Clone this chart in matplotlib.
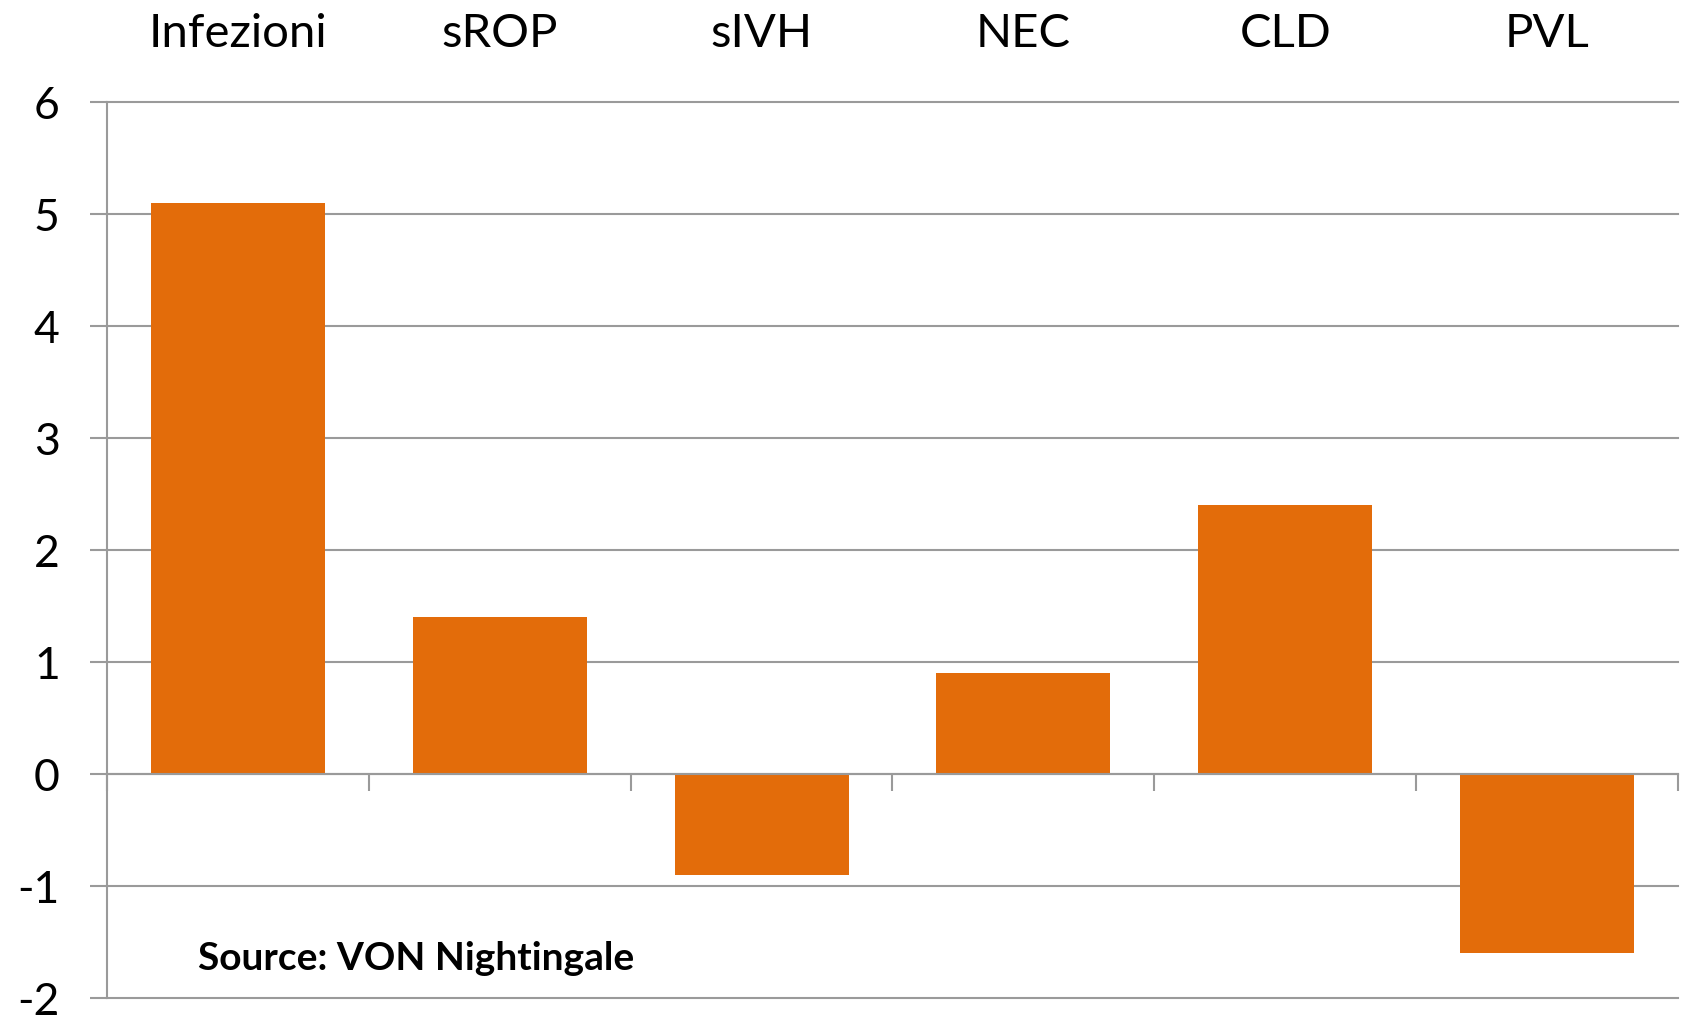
import matplotlib
matplotlib.use("Agg")
import matplotlib.pyplot as plt

# Data
categories = ["Infezioni", "sROP", "sIVH", "NEC", "CLD", "PVL"]
values = [5.1, 1.4, -0.9, 0.9, 2.4, -1.6]
y_ticks = [-2, -1, 0, 1, 2, 3, 4, 5, 6]

bar_color = "#E36C0A"
grid_color = "#9A9A9A"

plt.rcParams["font.family"] = ["Lato", "DejaVu Sans"]

fig = plt.figure(figsize=(16.83, 10.16), dpi=100)
ax = fig.add_axes([0.0636, 0.0177, 0.9334, 0.8819])

x = list(range(len(categories)))
ax.bar(x, values, width=0.665, color=bar_color, zorder=3)

ax.set_xlim(-0.5, len(categories) - 0.5)
ax.set_ylim(-2, 6)
ax.set_yticks(y_ticks)
ax.set_yticklabels([str(v) for v in y_ticks])
ax.yaxis.grid(True, color=grid_color, linewidth=1.5, zorder=0)
for gl in ax.get_ygridlines():
    gl.set_clip_on(False)
ax.tick_params(axis="y", length=12, width=1.5, color=grid_color, pad=22,
               labelsize=32)

# category names on top, boundary ticks on the zero line
ax.set_xticks(x)
ax.set_xticklabels(categories)
ax.tick_params(axis="x", which="major", bottom=False, top=False,
               labelbottom=False, labeltop=True, pad=30, labelsize=34)
ax.set_xticks([i - 0.5 for i in range(len(categories) + 1)], minor=True)
ax.tick_params(axis="x", which="minor", bottom=True, top=False,
               direction="out", length=12, width=1.5, color=grid_color)

ax.spines["top"].set_visible(False)
ax.spines["right"].set_visible(False)
ax.spines["bottom"].set_position(("data", 0))
ax.spines["bottom"].set_color(grid_color)
ax.spines["bottom"].set_linewidth(1.5)
ax.spines["bottom"].set_zorder(4)
ax.spines["left"].set_color(grid_color)
ax.spines["left"].set_linewidth(1.5)

fig.text(198 / 1683, 1 - 959 / 1016, "Source: VON Nightingale",
         fontsize=28, fontweight="bold", ha="left", va="center")

fig.savefig("out.png", dpi=100)
